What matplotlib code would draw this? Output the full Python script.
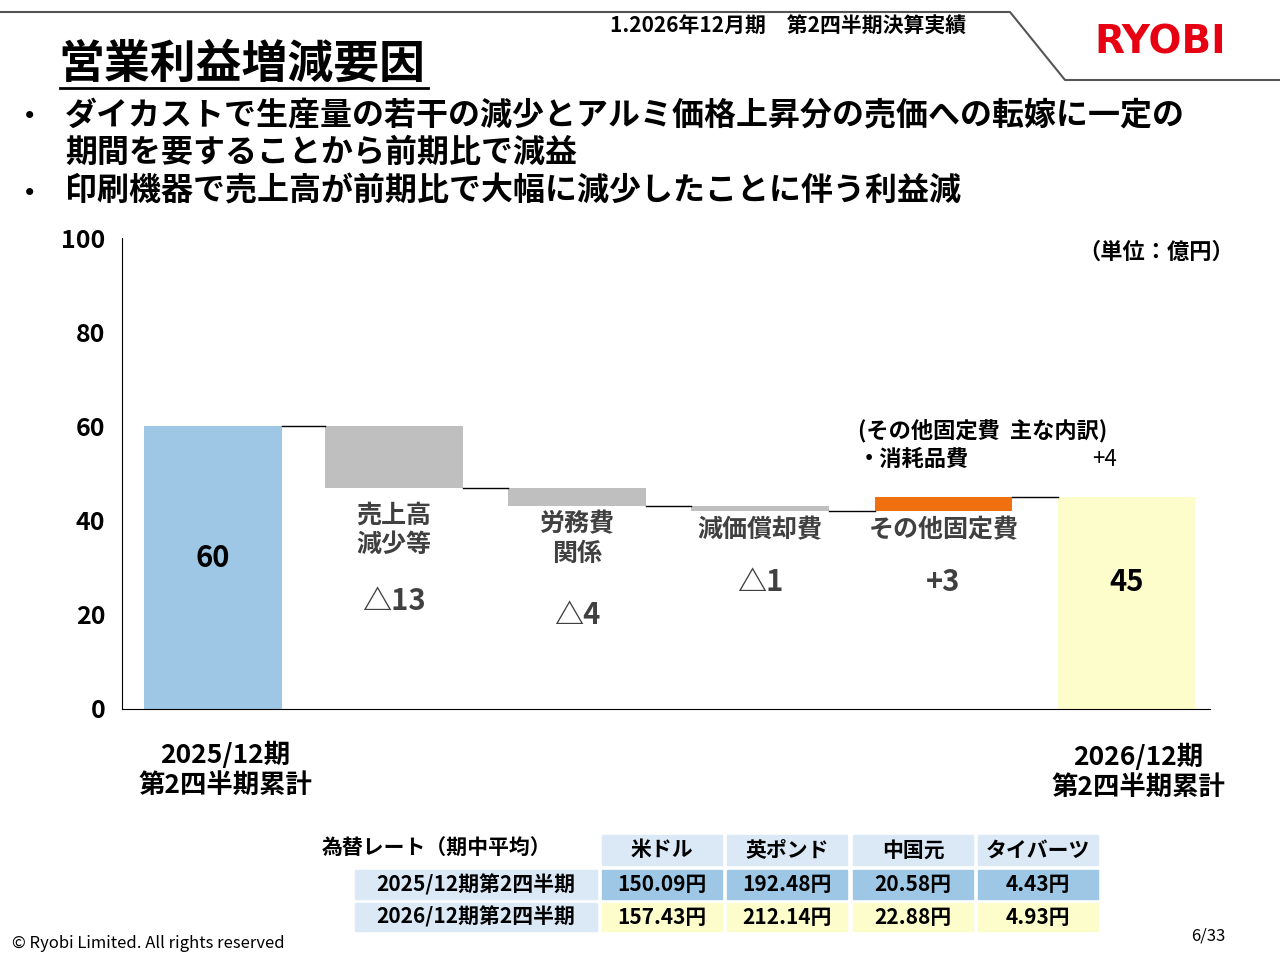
import numpy as np
import matplotlib.pyplot as plt
from matplotlib.patches import Rectangle

plt.rcParams['font.family'] = ['Noto Sans CJK JP', 'DejaVu Sans']
plt.rcParams['font.weight'] = 'bold'

# Waterfall data (unit: 100 million yen)
steps = ["60", "売上高\n減少等", "労務費\n関係", "減価償却費", "その他固定費", "45"]
deltas = [60, -13, -4, -1, 3, 45]
delta_labels = ["", "△13", "△4", "△1", "+3", ""]
bar_colors = ["#9dc7e4", "#bfbfbf", "#bfbfbf", "#bfbfbf", "#f07010", "#fdfccb"]

# Exchange rate table
currencies = ["米ドル", "英ポンド", "中国元", "タイバーツ"]
periods = ["2025/12期第2四半期", "2026/12期第2四半期"]
rates_2025 = ["150.09円", "192.48円", "20.58円", "4.43円"]
rates_2026 = ["157.43円", "212.14円", "22.88円", "4.93円"]


def px(fig, x, y):
    """
    Convert pixel position (from top-left) to figure fraction
    """
    return x / 1280, 1 - y / 960


def draw_header(fig):
    """
    Title, subtitle, logo and bullet text
    """
    fig.text(*px(fig, 58, 65), "営業利益増減要因", fontsize=33, va='center', ha='left')
    fig.add_artist(plt.Line2D([60 / 1280, 428 / 1280], [1 - 88 / 960] * 2, color='black', lw=2))
    fig.text(*px(fig, 610, 25), "1.2026年12月期　第2四半期決算実績", fontsize=15, va='center')
    fig.text(*px(fig, 1160, 42), "RYOBI", fontsize=28, color='#e60012', va='center', ha='center',
             family='DejaVu Sans')
    # Frame line on top
    xs = np.array([0, 1010, 1065, 1280]) / 1280
    ys = 1 - np.array([12, 12, 80, 80]) / 960
    fig.add_artist(plt.Line2D(xs, ys, color='#555555', lw=1.5))

    fig.text(*px(fig, 25, 115), "•", fontsize=18, va='center')
    fig.text(*px(fig, 65, 115), "ダイカストで生産量の若干の減少とアルミ価格上昇分の売価への転嫁に一定の",
             fontsize=23, va='center')
    fig.text(*px(fig, 65, 153), "期間を要することから前期比で減益", fontsize=23, va='center')
    fig.text(*px(fig, 25, 192), "•", fontsize=18, va='center')
    fig.text(*px(fig, 65, 192), "印刷機器で売上高が前期比で大幅に減少したことに伴う利益減",
             fontsize=23, va='center')


def draw_waterfall(fig):
    """
    Waterfall chart of operating profit changes
    """
    ax = fig.add_axes([122 / 1280, 1 - 709 / 960, 1088 / 1280, 471 / 960])
    width = 0.76
    level = 0
    bottoms = []
    heights = []
    for i, d in enumerate(deltas):
        if i == 0 or i == len(deltas) - 1:
            bottoms.append(0)
            heights.append(d)
            level = d
        else:
            bottoms.append(min(level, level + d))
            heights.append(abs(d))
            level += d
    centers = np.arange(len(deltas)) + 0.5 + np.array([0, 0, 0.01, 0.02, 0.03, 0.04])
    ax.bar(centers, heights, bottom=bottoms, width=width, color=bar_colors)

    # Connector lines
    level = 0
    for i, d in enumerate(deltas[:-1]):
        level = d if i == 0 else level + d
        ax.plot([centers[i] + width / 2, centers[i + 1] - width / 2], [level, level], color='black', lw=1)

    # Labels
    ax.text(centers[0], 32, steps[0], ha='center', va='center', fontsize=21)
    ax.text(centers[-1], 27, steps[-1], ha='center', va='center', fontsize=21)
    name_y = [None, 38, 36, 38, 38]
    num_y = [None, 23, 20, 27, 27]
    for i in range(1, 5):
        ax.text(centers[i], name_y[i], steps[i], ha='center', va='center', fontsize=18,
                color='#404040', linespacing=1.3)
        ax.text(centers[i], num_y[i], delta_labels[i], ha='center', va='center', fontsize=21,
                color='#404040')

    ax.text(centers[4] - 0.47, 59, "(その他固定費  主な内訳)", ha='left', va='center', fontsize=16)
    ax.text(centers[4] - 0.47, 53, "・消耗品費", ha='left', va='center', fontsize=16)
    ax.text(centers[5] - 0.12, 53, "+4", ha='center', va='center', fontsize=16, weight='normal')
    ax.text(6.13, 97, "（単位：億円）", ha='right', va='center', fontsize=16)

    ax.set_xlim(0, 6)
    ax.set_ylim(0, 100)
    ax.set_yticks([0, 20, 40, 60, 80, 100])
    ax.tick_params(axis='y', labelsize=18, length=0, pad=12)
    ax.set_xticks([])
    ax.spines['top'].set_visible(False)
    ax.spines['right'].set_visible(False)

    fig.text(*px(fig, 225, 770), "2025/12期\n第2四半期累計", ha='center', va='center', fontsize=19,
             linespacing=1.15)
    fig.text(*px(fig, 1138, 772), "2026/12期\n第2四半期累計", ha='center', va='center', fontsize=19,
             linespacing=1.15)


def draw_table(fig):
    """
    Exchange rate table under the chart
    """
    fig.text(*px(fig, 322, 848), "為替レート（期中平均）", fontsize=15, va='center')
    col_x = [602, 727, 853, 978]
    col_w = 120
    rows = [(835, 865, currencies, "#dbe9f6"),
            (870, 899, rates_2025, "#9dc7e4"),
            (903, 931, rates_2026, "#fdfccb")]
    for top, bottom, texts, color in rows:
        for x, t in zip(col_x, texts):
            fig.add_artist(Rectangle((x / 1280, 1 - bottom / 960), col_w / 1280, (bottom - top) / 960,
                                     color=color, transform=fig.transFigure))
            fig.text((x + col_w / 2) / 1280, 1 - (top + bottom) / 2 / 960, t, ha='center', va='center',
                     fontsize=15)
    for (top, bottom), label in zip([(870, 899), (903, 931)], periods):
        fig.add_artist(Rectangle((355 / 1280, 1 - bottom / 960), 242 / 1280, (bottom - top) / 960,
                                 color="#dbe9f6", transform=fig.transFigure))
        fig.text(476 / 1280, 1 - (top + bottom) / 2 / 960, label, ha='center', va='center', fontsize=15)

    fig.text(*px(fig, 12, 943), "© Ryobi Limited. All rights reserved", fontsize=12, va='center',
             weight='normal')
    fig.text(*px(fig, 1225, 936), "6/33", fontsize=12, va='center', ha='right', weight='normal')


def main():
    """
    Build the whole slide and save it
    """
    fig = plt.figure(figsize=(12.8, 9.6), dpi=100)
    draw_header(fig)
    draw_waterfall(fig)
    draw_table(fig)
    fig.savefig("out.png", dpi=100)

main()
